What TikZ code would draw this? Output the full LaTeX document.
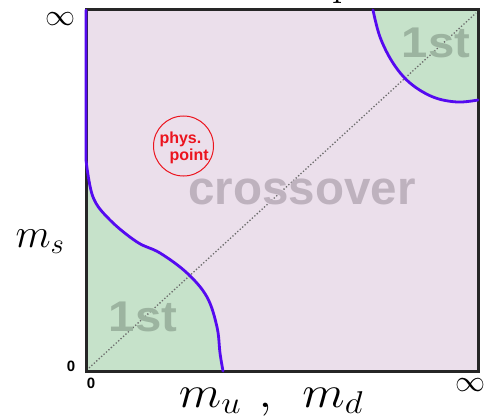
\RequirePackage{fix-cm}
\documentclass[tikz,border=0pt]{standalone}
\usepackage{fontspec}
\setsansfont{Liberation Sans}
\definecolor{pinkfill}{RGB}{235,223,235}
\definecolor{greenfill}{RGB}{198,226,202}
\definecolor{bluecurve}{RGB}{85,10,240}
\definecolor{crossgray}{RGB}{190,178,190}
\definecolor{firstgray}{RGB}{156,180,160}
\definecolor{physred}{RGB}{235,20,30}
\begin{document}
\begin{tikzpicture}[x=1pt,y=-1pt,
  boundary/.style={draw=bluecurve,line width=2.8pt,line cap=round,line join=round},
  frame/.style={draw=black!85,line width=3pt},
  bigtext/.style={font=\sffamily\bfseries\fontsize{47.5}{47.5}\selectfont},
  firsttext/.style={text=firstgray,xscale=1.1,font=\sffamily\bfseries\fontsize{43}{43}\selectfont},
  axislabel/.style={inner sep=0pt,font=\fontsize{41}{41}\selectfont},
  inflabel/.style={inner sep=0pt,font=\fontsize{30}{30}\selectfont},
  zerolabel/.style={inner sep=0pt,font=\sffamily\bfseries\fontsize{15}{15}\selectfont},
  physlabel/.style={text=physred,font=\sffamily\bfseries\fontsize{16}{16}\selectfont,anchor=base west}]
\useasboundingbox (0,0) rectangle (487,420);
% regions
\fill[pinkfill] (86,10) rectangle (478,371);
\fill[greenfill] (86,371) -- (86,160)
  -- plot[smooth,tension=0.6] coordinates {(86,160) (93,197) (110,220) (137,242) (160,253) (187,273) (207,297) (217,327) (220,353) (223,371)} -- cycle;
\fill[greenfill] (478,10) -- (373,10)
  -- plot[smooth,tension=0.6] coordinates {(373,10) (380,37) (393,63) (410,83) (433,97) (457,102) (478,100)} -- cycle;
% diagonal
\coordinate (o) at (89,368);
\coordinate (inf) at (476,13);
\draw[gray!85!black,dotted,line width=1.3pt] (o) -- (inf);
% texts
\node[bigtext,text=crossgray] (cross) at (302,192) {crossover};
\node[firsttext] (first1) at (143,317) {1st};
\node[firsttext] (first2) at (436,43) {1st};
% frame
\draw[frame] (86,10) rectangle (478,371);
% boundaries
\draw[boundary] (86,10) -- (86,160)
  -- plot[smooth,tension=0.6] coordinates {(86,160) (93,197) (110,220) (137,242) (160,253) (187,273) (207,297) (217,327) (220,353) (223,371)};
\draw[boundary] plot[smooth,tension=0.6] coordinates {(373,10) (380,37) (393,63) (410,83) (433,97) (457,102) (478,100)};
% phys point
\node[draw=physred,circle,line width=1pt,minimum size=60pt,inner sep=0pt] (phys) at (183.5,146) {};
\node[physlabel] (physa) at (156,143) {phys.};
\node[physlabel] (physb) at (166,160) {point};
% axis labels
\node[axislabel,anchor=base] (ms) at (40,247) {$m_s$};
\node[axislabel,anchor=base,xscale=1.1,font=\fontsize{45}{45}\selectfont] (mumd) at (271,407) {$m_u\hspace{0.35em},\hspace{0.45em}m_d$};
\node[inflabel] (infy) at (60,19) {$\infty$};
\node[inflabel] (infx) at (470,385) {$\infty$};
\node[zerolabel] (zeroy) at (71,366) {0};
\node[zerolabel] (zerox) at (91,383) {0};
\node[axislabel,anchor=base west] (ptop) at (332,-4) {p};
\end{tikzpicture}
\end{document}
